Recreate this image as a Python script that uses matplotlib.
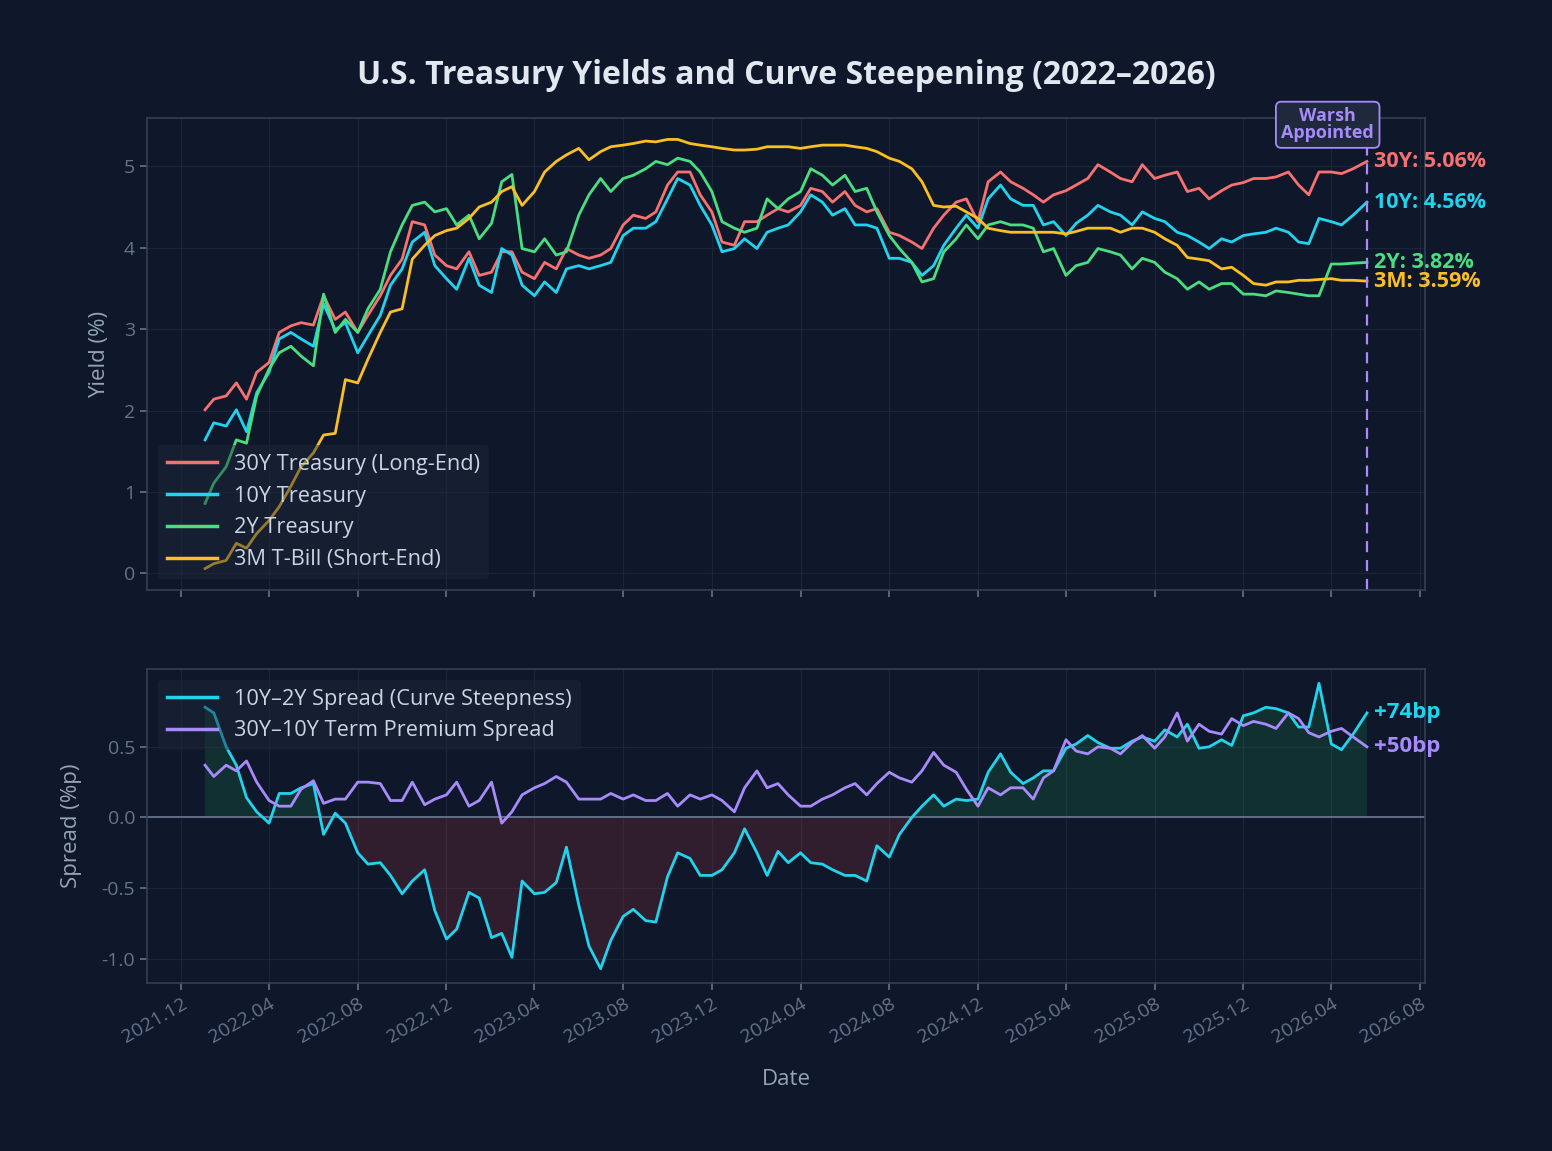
import matplotlib
matplotlib.use("Agg")
import matplotlib.pyplot as plt
import matplotlib.dates as mdates
import numpy as np
import pandas as pd

plt.rcParams['font.family'] = ['Open Sans', 'DejaVu Sans']
plt.rcParams['axes.unicode_minus'] = False

# semi-monthly readings
dates = pd.to_datetime([
    "2022-01-03", "2022-01-15", "2022-02-01", "2022-02-15", "2022-03-01", "2022-03-15",
    "2022-04-01", "2022-04-15", "2022-05-01", "2022-05-15", "2022-06-01", "2022-06-15",
    "2022-07-01", "2022-07-15", "2022-08-01", "2022-08-15", "2022-09-01", "2022-09-15",
    "2022-10-01", "2022-10-15", "2022-11-01", "2022-11-15", "2022-12-01", "2022-12-15",
    "2023-01-01", "2023-01-15", "2023-02-01", "2023-02-15", "2023-03-01", "2023-03-15",
    "2023-04-01", "2023-04-15", "2023-05-01", "2023-05-15", "2023-06-01", "2023-06-15",
    "2023-07-01", "2023-07-15", "2023-08-01", "2023-08-15", "2023-09-01", "2023-09-15",
    "2023-10-01", "2023-10-15", "2023-11-01", "2023-11-15", "2023-12-01", "2023-12-15",
    "2024-01-01", "2024-01-15", "2024-02-01", "2024-02-15", "2024-03-01", "2024-03-15",
    "2024-04-01", "2024-04-15", "2024-05-01", "2024-05-15", "2024-06-01", "2024-06-15",
    "2024-07-01", "2024-07-15", "2024-08-01", "2024-08-15", "2024-09-01", "2024-09-15",
    "2024-10-01", "2024-10-15", "2024-11-01", "2024-11-15", "2024-12-01", "2024-12-15",
    "2025-01-01", "2025-01-15", "2025-02-01", "2025-02-15", "2025-03-01", "2025-03-15",
    "2025-04-01", "2025-04-15", "2025-05-01", "2025-05-15", "2025-06-01", "2025-06-15",
    "2025-07-01", "2025-07-15", "2025-08-01", "2025-08-15", "2025-09-01", "2025-09-15",
    "2025-10-01", "2025-10-15", "2025-11-01", "2025-11-15", "2025-12-01", "2025-12-15",
    "2026-01-01", "2026-01-15", "2026-02-01", "2026-02-15", "2026-03-01", "2026-03-15",
    "2026-04-01", "2026-04-15", "2026-05-01", "2026-05-20",
])

y30 = np.array([
    2.01, 2.14, 2.18, 2.34, 2.14, 2.47, 2.59, 2.96, 3.04, 3.08, 3.05, 3.41,
    3.12, 3.21, 2.96, 3.17, 3.41, 3.66, 3.86, 4.32, 4.28, 3.91, 3.78, 3.74,
    3.95, 3.66, 3.70, 3.95, 3.95, 3.70, 3.62, 3.82, 3.74, 3.99, 3.91, 3.87,
    3.91, 3.99, 4.28, 4.40, 4.36, 4.44, 4.77, 4.93, 4.93, 4.65, 4.44, 4.07,
    4.03, 4.32, 4.32, 4.40, 4.48, 4.44, 4.52, 4.73, 4.69, 4.56, 4.69, 4.52,
    4.44, 4.48, 4.19, 4.15, 4.07, 3.99, 4.24, 4.40, 4.56, 4.60, 4.32, 4.81,
    4.93, 4.81, 4.73, 4.65, 4.56, 4.65, 4.70, 4.77, 4.85, 5.02, 4.93, 4.85,
    4.81, 5.02, 4.85, 4.89, 4.93, 4.69, 4.73, 4.60, 4.70, 4.77, 4.80, 4.85,
    4.85, 4.87, 4.93, 4.77, 4.65, 4.93, 4.93, 4.91, 4.97, 5.06,
])

y10 = np.array([
    1.64, 1.85, 1.81, 2.01, 1.74, 2.22, 2.47, 2.88, 2.96, 2.88, 2.79, 3.31,
    2.99, 3.08, 2.71, 2.92, 3.17, 3.54, 3.74, 4.07, 4.19, 3.78, 3.62, 3.49,
    3.87, 3.54, 3.45, 3.99, 3.91, 3.54, 3.41, 3.58, 3.45, 3.74, 3.78, 3.74,
    3.78, 3.82, 4.15, 4.24, 4.24, 4.32, 4.60, 4.85, 4.77, 4.52, 4.28, 3.95,
    3.99, 4.11, 3.99, 4.19, 4.24, 4.28, 4.44, 4.65, 4.56, 4.40, 4.48, 4.28,
    4.28, 4.24, 3.87, 3.87, 3.82, 3.66, 3.78, 4.03, 4.24, 4.40, 4.24, 4.60,
    4.77, 4.60, 4.52, 4.52, 4.28, 4.32, 4.15, 4.30, 4.40, 4.52, 4.44, 4.40,
    4.28, 4.44, 4.36, 4.32, 4.19, 4.15, 4.07, 3.99, 4.11, 4.07, 4.15, 4.17,
    4.19, 4.24, 4.19, 4.07, 4.05, 4.36, 4.32, 4.28, 4.40, 4.56,
])

y2 = np.array([
    0.86, 1.11, 1.31, 1.64, 1.60, 2.18, 2.51, 2.71, 2.79, 2.67, 2.55, 3.43,
    2.96, 3.12, 2.96, 3.25, 3.49, 3.95, 4.28, 4.52, 4.56, 4.44, 4.48, 4.28,
    4.40, 4.11, 4.30, 4.81, 4.90, 3.99, 3.95, 4.11, 3.91, 3.95, 4.40, 4.65,
    4.85, 4.69, 4.85, 4.89, 4.97, 5.06, 5.02, 5.10, 5.06, 4.93, 4.69, 4.32,
    4.24, 4.19, 4.24, 4.60, 4.48, 4.60, 4.69, 4.97, 4.89, 4.77, 4.89, 4.69,
    4.73, 4.44, 4.15, 3.99, 3.82, 3.58, 3.62, 3.95, 4.11, 4.28, 4.11, 4.28,
    4.32, 4.28, 4.28, 4.24, 3.95, 3.99, 3.66, 3.78, 3.82, 3.99, 3.95, 3.91,
    3.74, 3.87, 3.82, 3.70, 3.62, 3.49, 3.58, 3.49, 3.56, 3.56, 3.43, 3.43,
    3.41, 3.47, 3.45, 3.43, 3.41, 3.41, 3.80, 3.80, 3.81, 3.82,
])

y3m = np.array([
    0.06, 0.12, 0.16, 0.37, 0.31, 0.49, 0.65, 0.82, 1.07, 1.31, 1.48, 1.70,
    1.72, 2.38, 2.34, 2.63, 2.96, 3.21, 3.25, 3.86, 4.03, 4.15, 4.21, 4.24,
    4.36, 4.50, 4.56, 4.69, 4.75, 4.52, 4.69, 4.93, 5.06, 5.14, 5.22, 5.08,
    5.18, 5.24, 5.26, 5.28, 5.31, 5.30, 5.33, 5.33, 5.28, 5.26, 5.24, 5.22,
    5.20, 5.20, 5.21, 5.24, 5.24, 5.24, 5.22, 5.24, 5.26, 5.26, 5.26, 5.24,
    5.22, 5.18, 5.10, 5.06, 4.97, 4.81, 4.52, 4.50, 4.51, 4.44, 4.36, 4.24,
    4.21, 4.19, 4.19, 4.19, 4.19, 4.19, 4.17, 4.20, 4.24, 4.24, 4.24, 4.19,
    4.24, 4.24, 4.19, 4.11, 4.03, 3.88, 3.86, 3.84, 3.74, 3.76, 3.66, 3.56,
    3.54, 3.58, 3.58, 3.60, 3.60, 3.61, 3.62, 3.60, 3.60, 3.59,
])

spread_10_2 = y10 - y2
spread_30_10 = y30 - y10

BG = '#0f172a'
SPINE = '#334155'
GRID = '#1e293b'
TICK = '#64748b'
LABEL = '#94a3b8'
C30, C10, C2, C3M, CPUR = '#f87171', '#22d3ee', '#4ade80', '#fbbf24', '#a78bfa'

fig = plt.figure(figsize=(15.52, 11.51), dpi=100, facecolor=BG)
ax1 = fig.add_axes([0.0947, 0.4874, 0.8235, 0.4101])
ax2 = fig.add_axes([0.0947, 0.146, 0.8235, 0.2728], sharex=ax1)

for ax in (ax1, ax2):
    ax.set_facecolor(BG)
    for sp in ax.spines.values():
        sp.set_color(SPINE)
        sp.set_linewidth(1.2)
    ax.grid(True, color=GRID, linewidth=0.9, alpha=0.8)
    ax.tick_params(colors=TICK, labelsize=14, length=5, width=1.2)
    ax.set_axisbelow(True)

# top panel: yields
ax1.plot(dates, y30, color=C30, lw=2, label='30Y Treasury (Long-End)')
ax1.plot(dates, y10, color=C10, lw=2, label='10Y Treasury')
ax1.plot(dates, y2, color=C2, lw=2, label='2Y Treasury')
ax1.plot(dates, y3m, color=C3M, lw=2, label='3M T-Bill (Short-End)')
ax1.set_ylabel('Yield (%)', color=LABEL, fontsize=16, labelpad=10)
plt.setp(ax1.get_xticklabels(), visible=False)

last = dates[-1]
for vals, col, name in [(y30, C30, '30Y'), (y10, C10, '10Y'), (y2, C2, '2Y'), (y3m, C3M, '3M')]:
    ax1.annotate(f"{name}: {vals[-1]:.2f}%", xy=(last, vals[-1]), xytext=(5, 0),
                 textcoords='offset points', va='center', ha='left',
                 color=col, fontsize=15.5, fontweight='bold', annotation_clip=False)

ax1.axvline(last, color=CPUR, ls='--', lw=1.6, dashes=(5, 3.5))
ax1.text(last - pd.Timedelta(days=54), 5.51, 'Warsh\nAppointed', ha='center', va='center',
         color=CPUR, fontsize=13, fontweight='bold', linespacing=0.95, clip_on=False,
         bbox=dict(boxstyle='round,pad=0.3', fc='#1e293b', ec=CPUR, lw=1.3), zorder=6)

leg1 = ax1.legend(loc='lower left', fontsize=15.7, frameon=True, facecolor='#1e293b',
                  edgecolor='none', framealpha=0.45, handlelength=2.3)
for t in leg1.get_texts():
    t.set_color('#cbd5e1')
for h in leg1.get_lines():
    h.set_linewidth(2.5)

# bottom panel: spreads
ax2.fill_between(dates, spread_10_2, 0, where=spread_10_2 >= 0, interpolate=True,
                 color='#22c55e', alpha=0.15, lw=0)
ax2.fill_between(dates, spread_10_2, 0, where=spread_10_2 < 0, interpolate=True,
                 color='#ef4444', alpha=0.15, lw=0)
ax2.axhline(0, color=TICK, lw=1.3)
ax2.plot(dates, spread_10_2, color=C10, lw=2, label='10Y\u20132Y Spread (Curve Steepness)')
ax2.plot(dates, spread_30_10, color=CPUR, lw=2, label='30Y\u201310Y Term Premium Spread')
ax2.set_ylabel('Spread (%p)', color=LABEL, fontsize=16, labelpad=14)
ax2.set_xlabel('Date', color=LABEL, fontsize=16, labelpad=16)
ax2.set_yticks([-1.0, -0.5, 0.0, 0.5])

for vals, col in [(spread_10_2, C10), (spread_30_10, CPUR)]:
    bp = vals[-1] * 100
    ax2.annotate(f"{bp:+.0f}bp", xy=(last, vals[-1]), xytext=(5, 0),
                 textcoords='offset points', va='center', ha='left',
                 color=col, fontsize=16, fontweight='bold', annotation_clip=False)

leg2 = ax2.legend(loc='upper left', fontsize=15.7, frameon=True, facecolor='#1e293b',
                  edgecolor='none', framealpha=0.45, handlelength=2.3)
for t in leg2.get_texts():
    t.set_color('#cbd5e1')
for h in leg2.get_lines():
    h.set_linewidth(2.5)

ax2.xaxis.set_major_locator(mdates.MonthLocator(bymonth=[4, 8, 12]))
ax2.xaxis.set_major_formatter(mdates.DateFormatter('%Y.%m'))
plt.setp(ax2.get_xticklabels(), rotation=30, ha='right', rotation_mode='anchor')

fig.text(0.5065, 0.934, 'U.S. Treasury Yields and Curve Steepening (2022\u20132026)',
         ha='center', va='center', color='#e2e8f0', fontsize=23, fontweight='bold')

fig.savefig('out.png', dpi=100, facecolor=BG)
